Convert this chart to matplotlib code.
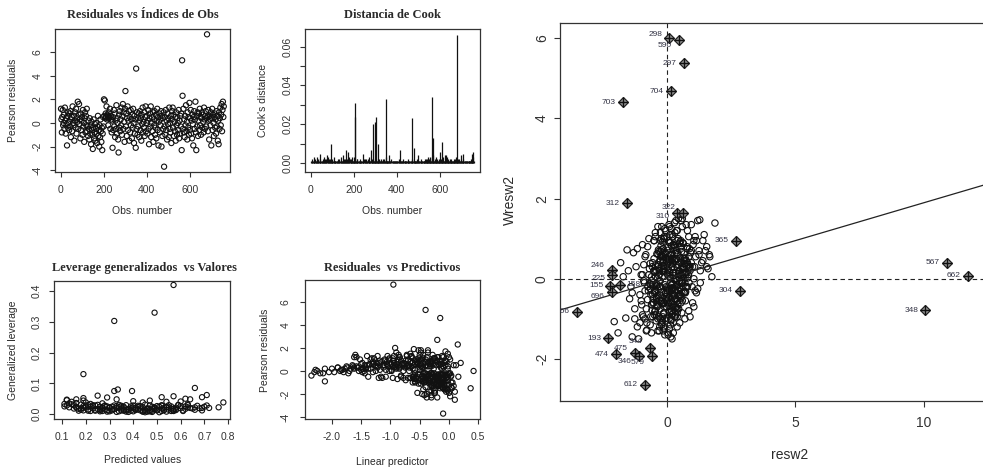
import numpy as np
import matplotlib
matplotlib.use("Agg")
import matplotlib.pyplot as plt

plt.rcParams['font.family'] = ['Liberation Sans', 'DejaVu Sans']
plt.rcParams['axes.unicode_minus'] = False

W, H = 983, 469
INK = '#2a2a2a'

# ---- glm diagnostics (every 2nd observation) ----
obs_number = np.arange(1, 761, 2)

pearson_resid = [
    1.2, 0.3, -0.8, 0.5, 1.1, -0.2, 0.0, 0.7, -0.5, 1.3, 0.2, -0.9, 0.4, -0.1, -1.9, 0.6, -0.4, 0.9, 0.1, -0.6,
    0.8, -0.3, 1.0, -1.2, 0.3, 0.5, -0.7, 1.4, 0.0, -0.2, 0.6, -1.5, 0.2, 0.9, -0.4, 1.2, -0.9, 0.4, 0.1, 1.8,
    -0.5, 0.7, 1.6, -0.1, 0.3, -1.3, 0.8, -0.6, 0.2, 0.5, -1.0, 1.1, -0.3, 0.0, -1.6, 0.4, 0.9, -0.8, 0.6, -0.2,
    1.2, -0.7, -0.3, -1.1, 0.2, -0.5, -1.4, 0.4, -0.9, -0.2, -1.8, 0.1, -0.6, -1.0, -2.2, -0.4, 0.3, -1.3, -0.8, -0.1,
    -1.5, -0.5, 0.0, -0.9, -1.7, -0.3, 0.6, -1.1, -0.6, -2.0, -0.2, -1.2, 0.3, -0.7, -1.6, -0.4, -2.3, -0.9, 0.5, -0.3,
    2.0, 0.6, 1.9, 0.4, 0.8, 0.5, 1.4, 0.3, 0.7, 0.6, -0.2, 0.9, 0.4, 0.5, 1.2, -0.5, 0.6, 0.3, -0.8, 0.2,
    -2.1, 0.5, -0.6, 1.1, -0.3, 0.8, -1.2, 0.2, -0.5, 1.5, -0.9, 0.4, 0.0, -1.4, -2.5, 0.7, -0.4, 1.0, -0.7, 0.3,
    -0.2, 1.3, -1.0, 0.6, 1.6, -0.5, 0.9, 0.1, -1.6, 1.2, 2.7, -0.3, 0.8, -1.1, 0.4, 1.4, -0.6, 0.2, 1.0, -1.5,
    0.5, -0.8, 1.1, -0.2, 0.3, -1.3, 0.7, -0.4, 1.2, 0.0, -1.7, 0.6, -0.9, 0.3, -2.1, 4.6, -0.5, 0.9, -1.0, 0.4,
    -0.3, 0.8, -1.2, 0.2, 1.0, -0.6, 0.4, -1.5, 0.7, -0.1, 1.3, -0.8, 0.1, -0.4, 0.9, -1.1, 0.5, 1.4, -0.7, 0.0,
    0.6, -0.9, 0.2, 1.1, -0.5, -1.8, 0.4, 0.8, -0.3, 1.4, -1.2, 0.0, 0.5, -0.7, 0.9, -1.6, 0.3, -0.2, 1.0, -1.0,
    -0.4, 0.7, -1.3, 0.2, 1.2, -0.6, 0.5, -1.9, 0.1, 0.8, -0.8, 0.3, -0.2, 1.0, -2.0, 0.6, -1.1, 0.4, -0.5, 0.9,
    -3.7, -0.3, 0.5, -1.0, 1.1, -0.6, 0.2, -1.4, 0.8, -0.1, 0.4, -1.2, 1.3, -0.5, 0.0, -0.8, 0.6, -1.7, 0.3, 1.0,
    1.3, -0.4, 0.7, -1.1, 0.1, -0.7, 0.5, -1.5, 0.9, -0.2, -1.0, 0.4, 0.0, -0.6, 1.1, -1.3, 0.2, -0.9, 0.6, -0.3,
    0.8, -2.3, 5.3, 2.3, -0.5, 1.2, -0.8, 0.3, -1.2, 0.6, -0.2, 1.5, -0.7, 0.1, -1.4, 0.9, -0.4, 0.5, -1.0, 1.7,
    -0.6, 0.4, 1.1, -0.9, 0.2, -1.3, 0.7, -0.1, -1.9, 0.5, 1.0, -0.5, 0.3, 1.8, -0.8, -2.3, 0.6, -0.3, 0.9, -1.1,
    0.2, 0.8, -0.6, 1.2, -0.2, 0.5, -1.0, 0.4, 0.9, -0.4, 0.7, 0.1, -0.8, 1.3, 0.3, -0.5, 0.6, 1.0, -0.3, 0.4,
    7.5, 0.5, -0.7, 1.1, 0.2, -1.4, 0.6, 0.3, -0.2, 0.9, -1.9, 0.4, 1.2, -0.6, 0.7, 0.0, -1.1, 0.5, 0.8, -0.4,
    0.3, -0.9, 1.0, -0.3, 0.6, -1.5, 0.2, -1.8, 0.9, -0.5, 0.4, 1.3, -0.2, 0.7, 1.6, -0.7, 1.1, 1.8, 0.5, 1.4,
]

linear_pred = [
    -0.85, -1.42, -0.35, -1.10, -0.62, -0.30, -1.25, -0.78, -0.55, -1.05, -1.68, -2.12, -0.95, -2.05, -0.25, -1.30, -2.35, -0.48, -1.82, -0.40,
    -1.15, -0.12, -0.70, -0.30, -1.55, -0.92, -0.45, -1.60, -1.02, -2.20, -0.58, -0.15, -1.38, -0.82, -0.05, -0.38, -0.28, -1.75, -0.98, -0.52,
    -0.62, -1.20, -0.90, -1.48, -0.75, -0.18, -0.55, -0.32, -2.12, -1.05, -0.42, -1.32, -0.22, -0.68, -0.08, -1.58, -0.95, -0.26, -0.48, 0.02,
    -1.58, -0.60, -0.18, -0.22, -0.85, -0.02, -0.12, -1.25, -0.40, -1.72, -0.05, -0.58, -0.78, -0.35, 0.02, 0.04, -1.62, -0.28, -0.50, -2.30,
    -0.10, -0.82, -1.45, -0.44, -0.30, -0.28, -1.00, -0.25, -0.66, -0.38, -0.10, -0.16, -0.90, -0.56, -0.06, -0.36, -0.20, -0.34, -1.40, 0.00,
    -0.92, -1.50, -0.60, -1.22, -0.88, -1.65, -0.72, -1.90, -0.36, -0.80, -0.32, -0.52, -0.64, -1.36, -1.62, -0.46, -0.98, -0.14, -0.12, -1.78,
    -0.42, -1.12, -0.70, -1.28, -0.14, -0.30, -0.18, -2.00, -0.24, -0.66, -0.24, -0.40, -1.70, -0.08, 0.10, -0.54, -0.06, -1.10, -0.48, -0.94,
    -0.40, -1.40, -0.32, -0.76, -0.48, -0.60, -0.20, -1.84, -0.02, -0.84, -0.20, -0.52, -1.06, -0.14, -0.36, -0.28, -1.14, -1.46, -0.56, 0.05,
    -0.70, -0.16, -1.02, -2.15, -0.44, -0.30, -1.24, -0.06, -0.18, -0.78, -0.24, -1.36, -0.58, -1.56, -0.30, -0.15, -0.38, -1.18, -0.62, -0.10,
    -0.16, -0.66, -0.08, -1.48, -0.40, -0.96, -1.64, -0.04, -0.30, -1.96, -1.22, -0.34, -1.08, -0.46, -0.74, -0.12, -0.22, -0.86, -0.88, -2.25,
    -0.54, -0.46, -0.90, -0.26, -1.16, -0.34, -0.10, -1.30, -0.04, -0.50, -0.22, -1.54, -1.44, -0.36, -0.06, -0.44, -1.74, -0.44, -1.34, 0.06,
    -0.08, -0.94, -0.26, -0.02, -0.64, -1.20, -0.16, -0.54, -2.28, -0.42, -0.74, -1.12, -0.58, -1.52, -0.46, -0.28, -0.52, -0.72, -1.38, -0.30,
    -0.10, -0.34, -0.60, -0.12, -0.96, -0.22, -1.42, -0.40, -0.16, -1.30, -0.84, -0.04, -0.64, 0.03, -1.86, -0.20, -1.06, -0.02, -0.50, -1.02,
    -0.12, -0.20, -1.48, -0.08, -1.18, -0.36, -0.80, -0.26, -1.10, -1.44, -0.58, -0.48, -0.98, -0.14, -0.44, -0.18, -0.62, -0.06, -0.90, -0.50,
    -0.32, -0.30, -0.40, 0.15, -1.08, -0.10, -0.42, -1.90, 0.00, -0.74, -0.26, -0.02, -0.22, -0.50, -0.12, -0.70, -0.34, -1.26, -0.16, -0.06,
    -0.66, -0.30, -0.24, -0.14, -1.34, 0.08, -0.44, -1.80, 0.00, -0.86, -0.46, -0.28, -1.22, -0.36, -0.02, -0.38, -0.18, -0.10, -0.06, -0.26,
    -0.12, -0.04, -0.56, -0.20, 0.00, -0.40, 0.04, -1.04, -0.28, -0.60, -0.08, -1.50, -0.18, -0.94, -0.68, -0.22, -0.14, 0.02, -0.38, -0.32,
    -0.95, -0.06, -0.10, -0.52, -0.26, 0.04, -0.18, -0.84, -0.30, -0.14, -0.24, -0.70, 0.00, -0.04, -0.62, 0.42, -0.48, 0.12, -0.20, -0.82,
    -0.46, -0.08, -0.86, -0.12, -0.32, 0.37, -1.62, 0.10, -0.58, 0.16, -0.02, -0.72, -0.42, 0.20, -0.36, -0.14, -0.26, -0.48, 0.08, -0.44,
]

cooks_d = [
    0.001, 0.000, 0.002, 0.001, 0.001, 0.000, 0.001, 0.003, 0.001, 0.002, 0.000, 0.001, 0.001, 0.000, 0.003, 0.001, 0.001, 0.002, 0.000, 0.001,
    0.005, 0.001, 0.002, 0.001, 0.000, 0.001, 0.001, 0.002, 0.000, 0.001, 0.001, 0.003, 0.001, 0.002, 0.000, 0.002, 0.001, 0.004, 0.000, 0.003,
    0.001, 0.001, 0.002, 0.000, 0.001, 0.002, 0.001, 0.010, 0.001, 0.001, 0.002, 0.001, 0.000, 0.001, 0.003, 0.001, 0.001, 0.001, 0.001, 0.000,
    0.001, 0.001, 0.000, 0.002, 0.001, 0.001, 0.002, 0.000, 0.001, 0.001, 0.003, 0.000, 0.001, 0.001, 0.004, 0.001, 0.001, 0.002, 0.001, 0.000,
    0.002, 0.001, 0.007, 0.001, 0.002, 0.006, 0.000, 0.001, 0.001, 0.003, 0.000, 0.002, 0.001, 0.001, 0.002, 0.001, 0.003, 0.001, 0.001, 0.001,
    0.003, 0.001, 0.031, 0.024, 0.001, 0.001, 0.002, 0.001, 0.002, 0.001, 0.000, 0.001, 0.001, 0.001, 0.002, 0.001, 0.001, 0.001, 0.001, 0.000,
    0.005, 0.001, 0.001, 0.002, 0.000, 0.001, 0.002, 0.000, 0.001, 0.002, 0.001, 0.001, 0.000, 0.002, 0.003, 0.001, 0.001, 0.001, 0.001, 0.000,
    0.007, 0.002, 0.001, 0.001, 0.001, 0.020, 0.001, 0.001, 0.002, 0.001, 0.021, 0.001, 0.024, 0.001, 0.001, 0.002, 0.010, 0.001, 0.002, 0.001,
    0.001, 0.001, 0.002, 0.000, 0.001, 0.001, 0.001, 0.001, 0.002, 0.000, 0.001, 0.002, 0.001, 0.001, 0.003, 0.033, 0.001, 0.001, 0.001, 0.001,
    0.001, 0.001, 0.004, 0.000, 0.001, 0.001, 0.000, 0.002, 0.000, 0.001, 0.001, 0.001, 0.000, 0.001, 0.001, 0.001, 0.001, 0.001, 0.001, 0.000,
    0.001, 0.001, 0.000, 0.001, 0.001, 0.002, 0.000, 0.007, 0.001, 0.001, 0.001, 0.000, 0.001, 0.001, 0.001, 0.002, 0.001, 0.000, 0.001, 0.001,
    0.001, 0.001, 0.001, 0.000, 0.001, 0.001, 0.001, 0.002, 0.001, 0.001, 0.001, 0.000, 0.001, 0.001, 0.002, 0.023, 0.001, 0.001, 0.000, 0.001,
    0.008, 0.001, 0.001, 0.001, 0.001, 0.001, 0.001, 0.002, 0.001, 0.000, 0.004, 0.001, 0.001, 0.001, 0.000, 0.001, 0.001, 0.002, 0.001, 0.001,
    0.001, 0.000, 0.001, 0.001, 0.001, 0.001, 0.002, 0.001, 0.002, 0.001, 0.002, 0.001, 0.003, 0.002, 0.002, 0.001, 0.003, 0.001, 0.002, 0.001,
    0.001, 0.003, 0.034, 0.004, 0.013, 0.001, 0.001, 0.001, 0.002, 0.001, 0.001, 0.003, 0.001, 0.001, 0.002, 0.001, 0.001, 0.001, 0.001, 0.002,
    0.006, 0.001, 0.002, 0.001, 0.001, 0.002, 0.011, 0.001, 0.003, 0.001, 0.001, 0.001, 0.001, 0.004, 0.001, 0.004, 0.003, 0.001, 0.001, 0.002,
    0.001, 0.001, 0.001, 0.002, 0.001, 0.001, 0.001, 0.002, 0.001, 0.001, 0.001, 0.001, 0.001, 0.002, 0.001, 0.001, 0.002, 0.003, 0.001, 0.001,
    0.066, 0.001, 0.001, 0.002, 0.001, 0.002, 0.001, 0.001, 0.000, 0.001, 0.004, 0.001, 0.001, 0.002, 0.001, 0.005, 0.001, 0.000, 0.001, 0.001,
    0.001, 0.000, 0.001, 0.001, 0.001, 0.000, 0.001, 0.001, 0.001, 0.001, 0.001, 0.001, 0.002, 0.001, 0.001, 0.002, 0.005, 0.006, 0.003, 0.001,
]

fitted_vals = [
    0.12, 0.31, 0.18, 0.47, 0.25, 0.55, 0.22, 0.39, 0.60, 0.16, 0.44, 0.28, 0.52, 0.35, 0.19, 0.63, 0.41, 0.27, 0.58, 0.33,
    0.23, 0.49, 0.14, 0.37, 0.57, 0.29, 0.45, 0.20, 0.53, 0.32, 0.67, 0.40, 0.17, 0.48, 0.26, 0.61, 0.36, 0.51, 0.21, 0.43,
    0.30, 0.56, 0.13, 0.46, 0.24, 0.38, 0.65, 0.19, 0.50, 0.34, 0.59, 0.27, 0.42, 0.15, 0.54, 0.31, 0.70, 0.22, 0.47, 0.39,
    0.18, 0.44, 0.26, 0.62, 0.35, 0.52, 0.11, 0.41, 0.57, 0.29, 0.48, 0.23, 0.66, 0.37, 0.16, 0.55, 0.33, 0.45, 0.20, 0.60,
    0.28, 0.50, 0.15, 0.40, 0.63, 0.24, 0.46, 0.34, 0.58, 0.21, 0.53, 0.38, 0.12, 0.49, 0.30, 0.68, 0.43, 0.26, 0.56, 0.36,
    0.19, 0.42, 0.54, 0.27, 0.61, 0.33, 0.47, 0.17, 0.39, 0.52, 0.25, 0.64, 0.36, 0.44, 0.14, 0.58, 0.31, 0.49, 0.22, 0.71,
    0.35, 0.57, 0.20, 0.45, 0.29, 0.51, 0.13, 0.40, 0.62, 0.24, 0.48, 0.37, 0.55, 0.18, 0.43, 0.66, 0.32, 0.53, 0.26, 0.46,
    0.23, 0.41, 0.59, 0.16, 0.50, 0.34, 0.69, 0.28, 0.45, 0.21, 0.56, 0.38, 0.11, 0.52, 0.30, 0.63, 0.42, 0.19, 0.48, 0.36,
    0.19, 0.32, 0.49, 0.57, 0.32, 0.335, 0.395, 0.66, 0.57, 0.69, 0.71, 0.76, 0.78, 0.25, 0.19, 0.12, 0.29, 0.47, 0.52, 0.64,
    0.33, 0.62, 0.72, 0.69, 0.16, 0.40, 0.54, 0.27, 0.44, 0.60,
]

gen_leverage = [
    0.028, 0.012, 0.031, 0.009, 0.017, 0.014, 0.024, 0.011, 0.019, 0.036, 0.008, 0.015, 0.010, 0.018, 0.026, 0.022, 0.013, 0.021, 0.016, 0.007,
    0.019, 0.016, 0.040, 0.008, 0.012, 0.025, 0.014, 0.022, 0.020, 0.016, 0.027, 0.021, 0.017, 0.011, 0.013, 0.012, 0.024, 0.006, 0.015, 0.018,
    0.020, 0.025, 0.022, 0.019, 0.028, 0.014, 0.018, 0.012, 0.015, 0.009, 0.030, 0.010, 0.023, 0.029, 0.008, 0.016, 0.024, 0.033, 0.013, 0.019,
    0.014, 0.022, 0.009, 0.017, 0.027, 0.018, 0.033, 0.016, 0.010, 0.008, 0.024, 0.026, 0.014, 0.013, 0.021, 0.029, 0.020, 0.011, 0.038, 0.026,
    0.026, 0.012, 0.018, 0.028, 0.029, 0.011, 0.017, 0.023, 0.021, 0.030, 0.013, 0.007, 0.045, 0.020, 0.009, 0.019, 0.026, 0.016, 0.018, 0.015,
    0.044, 0.015, 0.023, 0.019, 0.010, 0.026, 0.028, 0.011, 0.025, 0.027, 0.030, 0.020, 0.011, 0.009, 0.032, 0.013, 0.024, 0.022, 0.010, 0.028,
    0.012, 0.017, 0.027, 0.031, 0.013, 0.024, 0.035, 0.009, 0.025, 0.014, 0.018, 0.029, 0.021, 0.019, 0.012, 0.022, 0.028, 0.014, 0.024, 0.008,
    0.029, 0.020, 0.029, 0.024, 0.026, 0.030, 0.012, 0.028, 0.006, 0.011, 0.010, 0.017, 0.025, 0.029, 0.022, 0.032, 0.027, 0.020, 0.007, 0.021,
    0.130, 0.303, 0.330, 0.420, 0.075, 0.080, 0.075, 0.085, 0.058, 0.055, 0.062, 0.022, 0.038, 0.060, 0.052, 0.047, 0.054, 0.044, 0.055, 0.048,
    0.048, 0.050, 0.020, 0.020, 0.048, 0.042, 0.040, 0.035, 0.038, 0.041,
]

# ---- Moran scatter: residuals vs spatially lagged residuals ----
resw2 = [
    0.12, -0.35, 0.48, -0.08, 0.71, -0.52, 0.25, 0.03, -0.21, 0.39, -0.64, 0.56, 0.17, -0.43, 0.84, -0.12, 0.31, -0.28, 0.62, 0.05,
    -0.45, 0.22, -0.15, 0.58, 0.09, -0.67, 0.41, -0.02, 0.77, -0.31, 0.14, 0.50, -0.56, 0.28, -0.09, 0.66, -0.38, 0.19, 0.45, -0.19,
    0.35, -0.26, 0.07, -0.72, 0.53, 0.00, 0.88, -0.47, 0.24, -0.11, 0.69, -0.33, 0.42, -0.60, 0.15, 0.32, -0.05, 0.79, -0.40, 0.61,
    -0.16, 0.46, -0.54, 0.20, -0.03, 0.73, -0.36, 0.11, 0.57, -0.24, 0.37, -0.70, 0.04, 0.64, -0.13, 0.27, -0.49, 0.90, 0.16, -0.30,
    0.50, -0.10, 0.29, -0.58, 0.81, -0.20, 0.06, 0.43, -0.44, 0.18, -0.07, 0.67, -0.34, 0.36, 0.09, -0.62, 0.54, -0.17, 0.25, 0.75,
    -0.27, 0.40, -0.65, 0.13, 0.60, -0.04, 0.34, -0.51, 0.86, 0.01, -0.23, 0.48, -0.41, 0.21, 0.70, -0.14, 0.08, -0.75, 0.44, 0.30,
    0.02, 0.55, -0.32, 0.26, -0.59, 0.38, -0.06, 0.83, -0.18, 0.47, 0.10, -0.46, 0.63, -0.25, 0.19, -0.68, 0.33, 0.07, -0.37, 0.52,
    0.23, -0.12, 0.68, -0.39, 0.15, 0.42, -0.55, 0.00, 0.76, -0.29, 0.31, -0.08, 0.58, -0.63, 0.11, 0.49, -0.20, 0.37, -0.01, 0.92,
    -0.48, 0.17, 0.04, 0.59, -0.22, 0.35, -0.74, 0.27, 0.80, -0.15, 0.45, -0.35, 0.10, 0.65, -0.05, -0.57, 0.40, 0.20, -0.30, 0.72,
    0.09, -0.42, 0.51, 0.30, -0.10, 0.64, -0.27, 0.14, -0.60, 0.85, 0.38, -0.19, 0.24, 0.55, -0.50, 0.02, 0.73, -0.33, 0.46, 0.18,
    0.15, -0.30, 0.42, -0.05, 0.62, -0.48, 0.28, 0.06, -0.18, 0.50, -0.40, 0.35, 0.20, -0.12, 0.72, -0.25, 0.10, 0.55, -0.08, 0.38,
    -0.20, 0.45, 0.08, -0.55, 0.30, 0.68, -0.10, 0.25, -0.35, 0.58, 0.12, -0.28, 0.40, 0.00, -0.45, 0.75, 0.18, -0.15, 0.52, 0.33,
    0.05, -0.38, 0.60, 0.22, -0.12, 0.48, -0.62, 0.32, 0.80, -0.22, 0.14, 0.40, -0.05, 0.66, -0.30, 0.26, -0.50, 0.55, 0.10, -0.16,
    0.36, -0.44, 0.18, 0.70, -0.08, 0.50, -0.26, 0.04, 0.62, -0.58, 0.28, 0.44, -0.14, 0.82, 0.12, -0.34, 0.58, 0.22, -0.02, 0.40,
    -0.25, 0.16, 0.52, -0.42, 0.30, 0.08, 0.66, -0.10, 0.38, -0.55, 0.22, 0.78, -0.32, 0.46, 0.02, -0.18, 0.60, 0.14, -0.40, 0.34,
    -0.85, -0.95, 0.95, 1.05, -0.80, 0.88, -1.00, 1.12, -0.90, 0.98, -0.82, 1.02, -0.92, 0.90, -0.78, 1.08, -0.88, 0.85, -0.98, 1.15,
    -0.20, 0.10, -0.05, 0.25, -0.35, 0.05, 0.18, -0.15, 0.32, -0.28, 0.00, -0.42, 0.12, -0.08, 0.22, -0.50, 0.40, -0.25, 0.08, -0.12,
    -1.20, -0.95, 1.25, -1.05, 1.45, -0.85, 1.10, -1.40, 0.95, -1.15, 1.30, -0.90, 1.55, -1.30, 1.05, -1.00, 1.20, -1.25, 1.40, -0.80,
    0.30, -0.35, 0.60, 1.00, -0.50, 0.15, 1.15, -0.65, 0.45, 0.80, -0.20, 1.35, 0.05, -0.75, 0.90, -0.10, 1.60, -0.45, 0.70, 1.50,
    -1.55, -1.80, -2.05, -1.90, -1.35, -1.60, -1.45, -1.70, -0.78, -0.08, -1.10, -0.95, 1.28, 1.87, 1.67, 1.55, 1.75, -0.35, 0.00, 0.55,
    -1.25, -1.50, -1.15, 1.20, 0.85, 1.05, -0.60, 0.25, 1.40, -0.85, 0.60, 1.10, -1.35, 0.40, -0.25, 1.65, 0.95, -0.55, 0.10, 1.30,
    -0.45, 0.50, -0.30, 0.75, 1.00, -1.05, 0.35, -0.70, 0.20, 1.25,
]

wresw2 = [
    0.35, -0.42, 0.18, -0.15, 0.52, -0.60, 0.08, 0.71, -0.33, -0.05, -0.25, 0.44, -0.70, 0.22, 0.10, -0.88, 0.63, 0.12, -0.18, -0.48,
    0.15, -0.22, 0.48, -0.35, 0.90, -0.12, 0.65, -0.55, 0.30, -0.95, 0.02, -0.10, -0.38, 0.82, 0.26, 0.38, -0.68, -0.80, 0.05, 0.58,
    0.78, -0.05, -0.62, -0.30, -0.40, 0.42, 0.28, -0.82, -0.12, 1.05, 0.15, 0.35, 0.60, 0.05, -1.02, -0.28, -0.35, 0.75, -0.58, -0.08,
    0.40, 0.12, -0.50, 1.10, -0.20, -0.32, -0.15, -0.45, 0.68, 0.55, -0.72, 0.10, 0.24, 0.88, -0.62, -0.02, -0.90, 0.30, 0.50, -0.40,
    -0.25, 0.65, 0.45, -0.78, 0.02, -1.10, 0.55, -0.62, 0.32, -0.28, 0.20, 0.62, -0.48, 0.00, -0.85, -0.15, 0.95, 0.18, -0.40, -0.20,
    -0.75, 0.28, 0.38, 0.90, -0.55, -0.35, -0.90, 0.20, -0.10, 0.12, 0.82, -0.22, -0.18, 0.42, 0.35, 0.55, -0.68, -0.52, 1.00, -0.30,
    -0.22, 0.80, 0.08, -0.65, -0.05, 0.50, 1.20, 0.10, -1.05, -0.45, 0.48, -0.32, 0.28, 0.68, -0.15, 0.25, -0.52, 0.95, -0.70, 0.08,
    -0.88, 0.18, -0.35, 0.62, 0.58, -0.75, -0.60, -0.38, 0.45, -0.20, 1.15, 0.30, -0.12, -0.95, 0.15, 0.20, 0.72, -0.50, -0.70, 0.65,
    -0.35, 1.25, -0.48, -0.10, -0.55, 0.15, -0.20, 0.85, 0.40, 0.32, -0.30, 0.62, -0.82, 0.05, 0.52, 0.30, -0.95, -0.25, 0.20, -0.55,
    0.05, -0.12, 0.92, -0.42, 1.00, 0.28, 0.45, -1.15, -0.65, 0.55, -0.15, -0.62, 0.38, -0.48, 0.18, -0.30, 0.10, 0.72, 0.35, 0.82,
    -0.10, 0.25, -0.55, 0.60, 0.15, -0.30, -0.70, 0.40, 0.05, 0.88, -0.48, -0.20, 0.30, -0.85, -0.35, 0.45, -0.25, 0.10, -1.00, 0.70,
    0.55, -0.40, 0.20, -0.15, -0.95, 0.50, -0.60, 0.85, 0.30, -0.05, -0.30, -0.55, 0.95, 0.35, -0.80, 0.15, -0.15, 0.75, 0.40, -0.72,
    0.80, -0.65, 0.05, -0.45, -1.20, 0.20, -0.40, 0.50, -0.20, 1.00, 0.60, -0.85, -0.50, 0.45, -0.05, 0.15, 0.50, -0.60, -0.30, -0.95,
    0.35, 0.05, -0.80, -0.10, 0.62, -0.42, -1.00, -0.25, 0.90, -0.65, 0.78, 0.05, 0.22, 0.35, -0.60, -0.28, -0.85, 0.48, -0.45, -0.18,
    -0.20, -1.05, 0.52, -0.90, -0.50, 0.45, -0.35, -0.70, 1.20, 0.40, 0.15, 0.80, 0.68, -0.75, -0.55, 0.92, 0.25, 0.62, -0.50, 0.00,
    -0.30, 0.10, 0.40, 0.00, -0.75, 0.75, -0.55, 0.55, 0.35, -0.20, 0.60, 0.85, -0.95, 0.20, -1.10, 0.30, -0.10, 1.05, -0.65, -0.35,
    -1.15, -1.25, -1.05, -1.10, -1.00, -1.35, -0.90, -1.30, -0.95, -1.20, -0.98, -1.05, 1.10, 1.25, 1.05, 0.95, 1.20, 1.15, 1.35, 1.00,
    0.30, -0.90, 0.60, -0.40, 1.10, 0.55, -0.30, -0.20, 1.35, -1.20, 0.20, -0.05, 0.80, 0.65, -0.70, 0.10, 1.45, -0.75, 0.45, -1.30,
    1.40, -1.30, 1.30, -0.60, 0.95, -1.45, 0.95, -1.15, 1.50, 1.20, 1.30, 0.40, -1.40, 0.80, -0.95, -1.25, 0.25, 1.15, -1.00, 0.70,
    0.72, 0.40, -1.07, -1.35, -1.45, -0.98, -0.50, 0.05, -1.28, -1.40, -1.50, 0.85, 1.47, 1.39, 0.55, 0.30, 0.05, 1.30, 1.05, 1.45,
    -1.00, 0.20, 0.75, -0.25, -0.80, 0.95, -1.35, -1.35, 0.95, -1.00, 1.50, 1.05, -0.35, -1.20, 0.95, 0.60, 0.70, -0.95, 1.30, -0.10,
    1.05, -1.10, -1.30, 1.35, 0.30, -1.10, 1.45, 1.00, -1.50, 0.70,
]

infl_labels = ['298', '590', '297', '704', '703', '312', '310', '322', '365', '567', '662', '304',
               '348', '566', '246', '225', '155', '696', '158', '193', '474', '475', '346', '344', '579', '612']
infl_x = [0.08, 0.47, 0.66, 0.16, -1.71, -1.56, 0.39, 0.62, 2.68, 10.9, 11.7, 2.84,
          10.05, -3.5, -2.14, -2.12, -2.20, -2.15, -1.83, -2.30, -1.98, -1.25, -1.10, -0.66, -0.58, -0.86]
infl_y = [6.00, 5.95, 5.38, 4.68, 4.40, 1.88, 1.65, 1.65, 0.95, 0.40, 0.08, -0.30,
          -0.78, -0.82, 0.22, 0.10, -0.18, -0.33, -0.15, -1.48, -1.88, -1.85, -1.92, -1.74, -1.92, -2.65]

moran_slope = 0.189
moran_icpt = 0.006

# label offsets (points) for crowded point labels; default is just left of the point
label_offset = {'298': (-5, 3), '590': (-5, -4), '310': (-5, -3), '322': (-5, 4), '246': (-5, 3),
                '225': (-5, -3), '696': (-5, -3), '344': (-5, 5), '579': (-5, -5), '475': (-5, 3),
                '346': (-5, -4), '158': (5, 0)}


def px_axes(fig, left, top, right, bottom):
    return fig.add_axes([left / W, 1 - bottom / H, (right - left) / W, (bottom - top) / H])


def r_look(ax, fs=7.5, tlen=3.6, xpad=5.5, ypad=5.5):
    for s in ax.spines.values():
        s.set_linewidth(0.9)
        s.set_color('#333333')
    ax.tick_params(direction='out', length=tlen, width=0.8, colors='#333333', labelsize=fs)
    ax.tick_params(axis='x', pad=xpad)
    ax.tick_params(axis='y', pad=ypad)


def ftext(fig, x, y, s, **kw):
    fig.text(x / W, 1 - y / H, s, ha='center', va='center', color=INK, **kw)


title_font = dict(family=['Liberation Serif', 'DejaVu Serif'], fontweight='bold', fontsize=9)
circ = dict(marker='o', s=14, facecolors='none', edgecolors='#111111', linewidths=0.8)

fig = plt.figure(figsize=(W / 100, H / 100), dpi=100)

# Residuales vs indices
ax1 = px_axes(fig, 55, 29, 230, 172)
ax1.scatter(obs_number, pearson_resid, **circ)
ax1.set_xlim(-27, 788)
ax1.set_ylim(-4.15, 7.95)
ax1.set_xticks([0, 200, 400, 600])
ax1.set_yticks([-4, -2, 0, 2, 4, 6], ['-4', '-2', '0', '2', '4', '6'], rotation=90, va='center')
r_look(ax1)
ftext(fig, 143, 15, 'Residuales vs Índices de Obs', **title_font)
ftext(fig, 142, 211, 'Obs. number', fontsize=7.5)
ftext(fig, 13, 100, 'Pearson residuals', fontsize=7.5, rotation=90)

# Cook's distance
ax2 = px_axes(fig, 305, 29, 480, 172)
ax2.vlines(obs_number, 0, cooks_d, color='#111111', linewidth=0.9)
ax2.set_xlim(-27, 788)
ax2.set_ylim(-0.0045, 0.069)
ax2.set_xticks([0, 200, 400, 600])
ax2.set_yticks([0, 0.01, 0.02, 0.03, 0.04, 0.05, 0.06],
               ['0.00', '', '0.02', '', '0.04', '', '0.06'], rotation=90, va='center')
r_look(ax2)
ftext(fig, 392, 15, 'Distancia de Cook', **title_font)
ftext(fig, 392, 211, 'Obs. number', fontsize=7.5)
ftext(fig, 263, 100, "Cook's distance", fontsize=7.5, rotation=90)

# Leverage vs predicted
ax3 = px_axes(fig, 54, 281, 230, 419)
ax3.scatter(fitted_vals, gen_leverage, **circ)
ax3.set_xlim(0.066, 0.808)
ax3.set_ylim(-0.016, 0.433)
ax3.set_xticks([0.1, 0.2, 0.3, 0.4, 0.5, 0.6, 0.7, 0.8])
ax3.set_yticks([0, 0.1, 0.2, 0.3, 0.4], ['0.0', '0.1', '0.2', '0.3', '0.4'], rotation=90, va='center')
r_look(ax3)
ftext(fig, 144, 268, 'Leverage generalizados  vs Valores', **title_font)
ftext(fig, 143, 460, 'Predicted values', fontsize=7.5)
ftext(fig, 13, 350, 'Generalized leverage', fontsize=7.5, rotation=90)

# Residuals vs linear predictor
ax4 = px_axes(fig, 305, 280, 480, 419)
ax4.scatter(linear_pred, pearson_resid, **circ)
ax4.set_xlim(-2.46, 0.53)
ax4.set_ylim(-4.17, 7.9)
ax4.set_xticks([-2.0, -1.5, -1.0, -0.5, 0.0, 0.5], ['-2.0', '-1.5', '-1.0', '-0.5', '0.0', '0.5'])
ax4.set_yticks([-4, -2, 0, 2, 4, 6], ['-4', '-2', '0', '2', '4', '6'], rotation=90, va='center')
r_look(ax4, ypad=7)
ftext(fig, 392, 268, 'Residuales  vs Predictivos', **title_font)
ftext(fig, 392, 462, 'Linear predictor', fontsize=7.5)
ftext(fig, 265, 350, 'Pearson residuals', fontsize=7.5, rotation=90)

# Moran scatter
ax5 = px_axes(fig, 560, 23, 985, 401)
ax5.set_xlim(-4.16, 12.38)
ax5.set_ylim(-3.05, 6.38)
ax5.scatter(resw2, wresw2, marker='o', s=21, facecolors='none', edgecolors='#111111', linewidths=0.8)
ax5.axhline(0, color='#222222', lw=0.8, ls=(0, (4, 3)))
ax5.axvline(0, color='#222222', lw=0.8, ls=(0, (4, 3)))
xx = np.array(ax5.get_xlim())
ax5.plot(xx, moran_icpt + moran_slope * xx, color='#222222', lw=0.9)
ax5.plot(infl_x, infl_y, ls='none', marker='D', ms=5.5, mfc='#999999', mec='#222222', mew=0.9)
ax5.plot(infl_x, infl_y, ls='none', marker='+', ms=7, mec='#111111', mew=1.0)
for lab, x, y in zip(infl_labels, infl_x, infl_y):
    off = label_offset.get(lab, (-5, 0))
    ax5.annotate(lab, (x, y), xytext=off, textcoords='offset points',
                 ha='right' if off[0] < 0 else 'left', va='center', fontsize=6, color='#333344',
                 annotation_clip=False, clip_on=True)
ax5.set_xticks([0, 5, 10])
ax5.set_yticks([-2, 0, 2, 4, 6], ['-2', '0', '2', '4', '6'], rotation=90, va='center')
r_look(ax5, fs=10, tlen=4.5, xpad=6.5, ypad=3.5)
ax5.spines['right'].set_visible(False)
ftext(fig, 790, 455, 'resw2', fontsize=10)
ftext(fig, 510, 200, 'Wresw2', fontsize=10, rotation=90)

fig.savefig('out.png', dpi=100)
